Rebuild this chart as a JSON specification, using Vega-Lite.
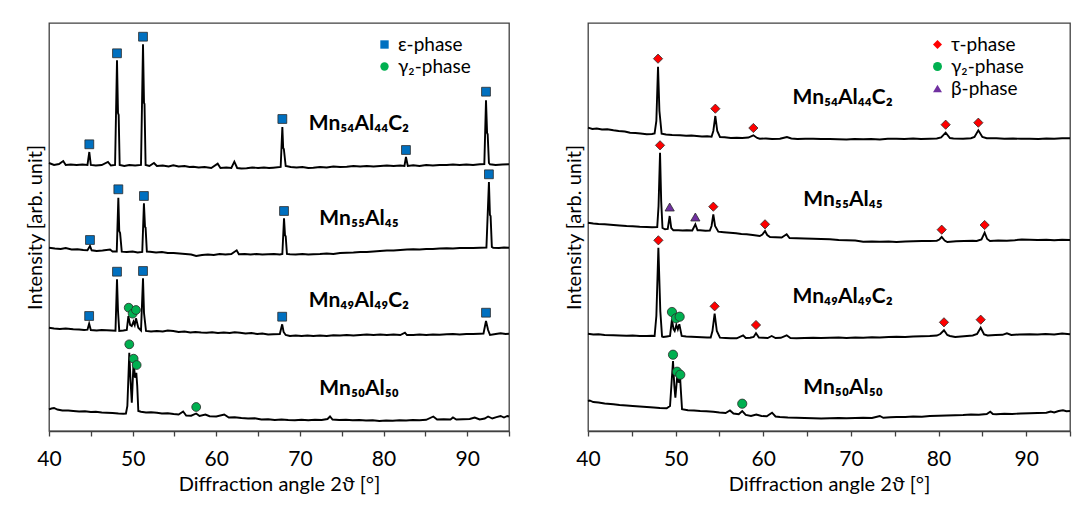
{
  "$schema": "https://vega.github.io/schema/vega-lite/v6.json",
  "background": "white",
  "padding": {"left": 24, "top": 22, "right": 5, "bottom": 5},
  "spacing": 49,
  "config": {
    "font": "Lato",
    "view": {"stroke": "#404040", "strokeWidth": 1.3}
  },
  "resolve": {
    "scale": {"x": "independent", "y": "independent", "fill": "independent", "shape": "independent"},
    "legend": {"fill": "independent", "shape": "independent"}
  },
  "datasets": {
    "L": [
      {"s":"a","x":40,"y":268},{"s":"a","x":40.6,"y":266},{"s":"a","x":41.2,"y":267},{"s":"a","x":41.7,"y":270},{"s":"a","x":42.0,"y":266},{"s":"a","x":42.6,"y":266.5},{"s":"a","x":43.3,"y":266},{"s":"a","x":44.0,"y":266.5},{"s":"a","x":44.6,"y":266},{"s":"a","x":44.82,"y":279},{"s":"a","x":45.0,"y":266},{"s":"a","x":45.6,"y":265.5},{"s":"a","x":46.3,"y":266},{"s":"a","x":47.05,"y":269},{"s":"a","x":47.4,"y":265.5},{"s":"a","x":47.9,"y":266},{"s":"a","x":48.13,"y":370.7},{"s":"a","x":48.25,"y":318},{"s":"a","x":48.33,"y":316},{"s":"a","x":48.45,"y":266},{"s":"a","x":49.0,"y":265},{"s":"a","x":49.6,"y":266},{"s":"a","x":50.3,"y":265.5},{"s":"a","x":51.0,"y":266},{"s":"a","x":51.24,"y":386.7},{"s":"a","x":51.36,"y":328},{"s":"a","x":51.42,"y":327},{"s":"a","x":51.55,"y":266},{"s":"a","x":52.0,"y":265},{"s":"a","x":52.55,"y":268},{"s":"a","x":52.9,"y":265},{"s":"a","x":53.6,"y":265.5},{"s":"a","x":54.3,"y":264.5},{"s":"a","x":54.86,"y":265.7},{"s":"a","x":55.5,"y":264.5},{"s":"a","x":56.2,"y":265},{"s":"a","x":56.8,"y":264},{"s":"a","x":57.25,"y":264.3},{"s":"a","x":57.9,"y":263.5},{"s":"a","x":58.6,"y":264},{"s":"a","x":59.4,"y":263},{"s":"a","x":60.17,"y":267.3},{"s":"a","x":60.5,"y":263},{"s":"a","x":61.2,"y":263.5},{"s":"a","x":61.8,"y":263},{"s":"a","x":62.16,"y":269.3},{"s":"a","x":62.5,"y":263},{"s":"a","x":63.0,"y":262.5},{"s":"a","x":63.63,"y":262.7},{"s":"a","x":64.3,"y":263.5},{"s":"a","x":65.0,"y":263},{"s":"a","x":65.7,"y":263.5},{"s":"a","x":66.3,"y":263},{"s":"a","x":66.8,"y":263.3},{"s":"a","x":67.7,"y":264},{"s":"a","x":67.9,"y":304},{"s":"a","x":68.0,"y":283},{"s":"a","x":68.08,"y":282},{"s":"a","x":68.3,"y":265},{"s":"a","x":68.9,"y":264},{"s":"a","x":69.6,"y":263.5},{"s":"a","x":70.3,"y":264},{"s":"a","x":71.0,"y":263},{"s":"a","x":71.6,"y":263.3},{"s":"a","x":72.4,"y":264},{"s":"a","x":73.2,"y":263.5},{"s":"a","x":74.0,"y":264.5},{"s":"a","x":74.8,"y":264},{"s":"a","x":75.6,"y":264.3},{"s":"a","x":76.4,"y":265},{"s":"a","x":77.2,"y":264.5},{"s":"a","x":78.0,"y":265},{"s":"a","x":78.8,"y":264.5},{"s":"a","x":79.6,"y":265},{"s":"a","x":80.4,"y":265.5},{"s":"a","x":81.2,"y":265},{"s":"a","x":82.0,"y":265.5},{"s":"a","x":82.5,"y":265},{"s":"a","x":82.68,"y":274},{"s":"a","x":82.9,"y":265},{"s":"a","x":83.55,"y":265.7},{"s":"a","x":84.3,"y":265},{"s":"a","x":85.1,"y":266},{"s":"a","x":85.9,"y":265.5},{"s":"a","x":86.7,"y":266},{"s":"a","x":87.55,"y":266},{"s":"a","x":88.3,"y":266.5},{"s":"a","x":89.1,"y":266},{"s":"a","x":89.9,"y":266.5},{"s":"a","x":90.7,"y":266},{"s":"a","x":91.53,"y":266.7},{"s":"a","x":92.05,"y":267},{"s":"a","x":92.25,"y":330.7},{"s":"a","x":92.38,"y":298},{"s":"a","x":92.45,"y":296.7},{"s":"a","x":92.6,"y":268},{"s":"a","x":92.73,"y":266.7},{"s":"a","x":93.4,"y":266},{"s":"a","x":94.2,"y":266.5},{"s":"a","x":95,"y":266.7},

      {"s":"b","x":40,"y":183.3},{"s":"b","x":40.7,"y":182.5},{"s":"b","x":41.4,"y":182},{"s":"b","x":42.0,"y":183},{"s":"b","x":42.7,"y":181.5},{"s":"b","x":43.4,"y":181.7},{"s":"b","x":44.1,"y":181},{"s":"b","x":44.6,"y":180.7},{"s":"b","x":44.9,"y":185},{"s":"b","x":45.1,"y":180.7},{"s":"b","x":45.7,"y":180},{"s":"b","x":46.4,"y":180.5},{"s":"b","x":47.3,"y":181.5},{"s":"b","x":47.6,"y":179.5},{"s":"b","x":48.1,"y":179.5},{"s":"b","x":48.29,"y":233.3},{"s":"b","x":48.4,"y":200},{"s":"b","x":48.5,"y":198},{"s":"b","x":48.7,"y":179.3},{"s":"b","x":49.3,"y":179},{"s":"b","x":50.0,"y":179.5},{"s":"b","x":50.6,"y":178.5},{"s":"b","x":51.15,"y":179},{"s":"b","x":51.35,"y":227.7},{"s":"b","x":51.48,"y":204},{"s":"b","x":51.55,"y":203.3},{"s":"b","x":51.7,"y":179.5},{"s":"b","x":52.08,"y":179.3},{"s":"b","x":52.8,"y":178.5},{"s":"b","x":53.5,"y":179},{"s":"b","x":54.2,"y":178},{"s":"b","x":54.9,"y":178},{"s":"b","x":55.6,"y":177.5},{"s":"b","x":56.3,"y":177},{"s":"b","x":57.0,"y":176.5},{"s":"b","x":57.6,"y":175},{"s":"b","x":58.3,"y":176},{"s":"b","x":59.0,"y":176.5},{"s":"b","x":59.7,"y":176},{"s":"b","x":60.4,"y":177},{"s":"b","x":61.1,"y":176.5},{"s":"b","x":61.8,"y":177},{"s":"b","x":62.44,"y":180.7},{"s":"b","x":62.7,"y":176.7},{"s":"b","x":63.4,"y":177},{"s":"b","x":64.1,"y":176.5},{"s":"b","x":64.8,"y":177},{"s":"b","x":65.5,"y":176.5},{"s":"b","x":66.2,"y":176.7},{"s":"b","x":66.9,"y":177},{"s":"b","x":67.6,"y":176.5},{"s":"b","x":67.9,"y":177},{"s":"b","x":68.1,"y":212.7},{"s":"b","x":68.22,"y":195.5},{"s":"b","x":68.3,"y":195},{"s":"b","x":68.45,"y":177},{"s":"b","x":68.8,"y":176.7},{"s":"b","x":69.5,"y":176.5},{"s":"b","x":70.3,"y":177},{"s":"b","x":71.0,"y":176.5},{"s":"b","x":71.6,"y":176.7},{"s":"b","x":72.4,"y":177},{"s":"b","x":73.2,"y":177.5},{"s":"b","x":74.0,"y":177},{"s":"b","x":74.8,"y":178},{"s":"b","x":75.6,"y":178.3},{"s":"b","x":76.4,"y":178.5},{"s":"b","x":77.2,"y":179},{"s":"b","x":78.0,"y":179},{"s":"b","x":78.8,"y":179.5},{"s":"b","x":79.57,"y":180},{"s":"b","x":80.4,"y":180.5},{"s":"b","x":81.2,"y":180.5},{"s":"b","x":82.0,"y":181},{"s":"b","x":82.8,"y":181.5},{"s":"b","x":83.56,"y":181.7},{"s":"b","x":84.3,"y":181.5},{"s":"b","x":85.1,"y":182},{"s":"b","x":85.9,"y":182},{"s":"b","x":86.7,"y":182.5},{"s":"b","x":87.55,"y":182.7},{"s":"b","x":88.3,"y":182.5},{"s":"b","x":89.1,"y":183},{"s":"b","x":89.9,"y":183},{"s":"b","x":90.7,"y":183},{"s":"b","x":91.53,"y":183.3},{"s":"b","x":92.3,"y":183.5},{"s":"b","x":92.6,"y":249},{"s":"b","x":92.72,"y":216},{"s":"b","x":92.8,"y":215},{"s":"b","x":92.95,"y":184},{"s":"b","x":93.1,"y":183.3},{"s":"b","x":93.8,"y":183},{"s":"b","x":94.4,"y":183.5},{"s":"b","x":95,"y":183.3},

      {"s":"c","x":40,"y":103.3},{"s":"c","x":40.6,"y":102.5},{"s":"c","x":41.3,"y":102},{"s":"c","x":42.0,"y":102.5},{"s":"c","x":42.9,"y":101.7},{"s":"c","x":43.6,"y":101.5},{"s":"c","x":44.2,"y":101},{"s":"c","x":44.6,"y":101.3},{"s":"c","x":44.8,"y":107.3},{"s":"c","x":45.0,"y":101},{"s":"c","x":45.7,"y":100.5},{"s":"c","x":46.3,"y":101},{"s":"c","x":46.9,"y":100.7},{"s":"c","x":47.5,"y":100.5},{"s":"c","x":47.95,"y":100.3},{"s":"c","x":48.13,"y":151.7},{"s":"c","x":48.25,"y":120},{"s":"c","x":48.4,"y":100},{"s":"c","x":48.9,"y":100.5},{"s":"c","x":49.3,"y":101},{"s":"c","x":49.49,"y":115},{"s":"c","x":49.7,"y":106},{"s":"c","x":49.89,"y":105},{"s":"c","x":50.1,"y":109.3},{"s":"c","x":50.25,"y":106},{"s":"c","x":50.4,"y":112.7},{"s":"c","x":50.68,"y":103.3},{"s":"c","x":51.0,"y":100.5},{"s":"c","x":51.24,"y":152.7},{"s":"c","x":51.36,"y":118},{"s":"c","x":51.6,"y":100},{"s":"c","x":52.2,"y":99.5},{"s":"c","x":52.9,"y":100},{"s":"c","x":53.6,"y":99.5},{"s":"c","x":54.2,"y":100.5},{"s":"c","x":54.86,"y":100},{"s":"c","x":55.5,"y":99},{"s":"c","x":56.2,"y":99.5},{"s":"c","x":56.9,"y":98.5},{"s":"c","x":57.5,"y":99},{"s":"c","x":58.2,"y":98.5},{"s":"c","x":58.85,"y":98.3},{"s":"c","x":59.5,"y":98.8},{"s":"c","x":60.2,"y":98},{"s":"c","x":60.9,"y":98.5},{"s":"c","x":61.6,"y":98},{"s":"c","x":62.2,"y":98.8},{"s":"c","x":62.84,"y":98.3},{"s":"c","x":63.5,"y":97.5},{"s":"c","x":64.2,"y":98},{"s":"c","x":64.9,"y":97},{"s":"c","x":65.5,"y":97.5},{"s":"c","x":66.2,"y":96.5},{"s":"c","x":66.82,"y":96.7},{"s":"c","x":67.6,"y":97},{"s":"c","x":67.88,"y":106.7},{"s":"c","x":68.05,"y":99},{"s":"c","x":68.3,"y":96},{"s":"c","x":68.8,"y":95},{"s":"c","x":69.5,"y":95.5},{"s":"c","x":70.2,"y":95},{"s":"c","x":70.9,"y":95.5},{"s":"c","x":71.6,"y":95},{"s":"c","x":72.4,"y":95.5},{"s":"c","x":73.2,"y":95},{"s":"c","x":74.0,"y":95.8},{"s":"c","x":74.8,"y":95.5},{"s":"c","x":75.6,"y":96},{"s":"c","x":76.4,"y":95.5},{"s":"c","x":77.2,"y":96},{"s":"c","x":78.0,"y":96.5},{"s":"c","x":78.8,"y":96},{"s":"c","x":79.6,"y":96.5},{"s":"c","x":80.4,"y":96},{"s":"c","x":81.2,"y":96.5},{"s":"c","x":82.0,"y":96},{"s":"c","x":82.56,"y":98.3},{"s":"c","x":82.8,"y":96},{"s":"c","x":83.56,"y":96},{"s":"c","x":84.3,"y":96.5},{"s":"c","x":85.1,"y":96},{"s":"c","x":85.9,"y":96.5},{"s":"c","x":86.7,"y":96.2},{"s":"c","x":87.55,"y":96.7},{"s":"c","x":88.3,"y":97},{"s":"c","x":89.1,"y":96.5},{"s":"c","x":89.9,"y":97},{"s":"c","x":90.7,"y":97},{"s":"c","x":91.5,"y":97.3},{"s":"c","x":91.95,"y":97.5},{"s":"c","x":92.25,"y":110},{"s":"c","x":92.5,"y":101},{"s":"c","x":92.73,"y":96},{"s":"c","x":93.4,"y":97},{"s":"c","x":94.0,"y":97.8},{"s":"c","x":94.6,"y":97},{"s":"c","x":95,"y":97.3},

      {"s":"d","x":40,"y":21.7},{"s":"d","x":40.3,"y":22.5},{"s":"d","x":40.6,"y":23},{"s":"d","x":41.0,"y":21.5},{"s":"d","x":41.6,"y":20.5},{"s":"d","x":42.3,"y":20.5},{"s":"d","x":42.9,"y":20},{"s":"d","x":43.6,"y":19.5},{"s":"d","x":44.3,"y":19.8},{"s":"d","x":45.0,"y":19},{"s":"d","x":45.6,"y":19.3},{"s":"d","x":46.3,"y":18.5},{"s":"d","x":46.9,"y":18.3},{"s":"d","x":47.6,"y":18},{"s":"d","x":48.3,"y":17.5},{"s":"d","x":48.9,"y":17.3},{"s":"d","x":49.2,"y":17.5},{"s":"d","x":49.37,"y":25},{"s":"d","x":49.6,"y":78.3},{"s":"d","x":49.75,"y":50},{"s":"d","x":49.9,"y":28.3},{"s":"d","x":50.12,"y":70.7},{"s":"d","x":50.28,"y":53.3},{"s":"d","x":50.44,"y":58.3},{"s":"d","x":50.55,"y":45},{"s":"d","x":50.68,"y":20},{"s":"d","x":51.0,"y":19.3},{"s":"d","x":51.6,"y":18.5},{"s":"d","x":52.2,"y":18.8},{"s":"d","x":52.9,"y":18.3},{"s":"d","x":53.5,"y":17.5},{"s":"d","x":54.2,"y":17.8},{"s":"d","x":54.9,"y":17},{"s":"d","x":55.5,"y":16.5},{"s":"d","x":56.04,"y":19.5},{"s":"d","x":56.4,"y":15.5},{"s":"d","x":57.0,"y":15.3},{"s":"d","x":57.6,"y":17.5},{"s":"d","x":58.0,"y":15},{"s":"d","x":58.7,"y":16.5},{"s":"d","x":59.2,"y":14.8},{"s":"d","x":60.0,"y":14.5},{"s":"d","x":60.95,"y":16.5},{"s":"d","x":61.5,"y":13.5},{"s":"d","x":62.2,"y":13.8},{"s":"d","x":63.0,"y":13},{"s":"d","x":63.8,"y":12.5},{"s":"d","x":64.6,"y":12.8},{"s":"d","x":65.4,"y":11.5},{"s":"d","x":66.2,"y":11.7},{"s":"d","x":67.0,"y":11},{"s":"d","x":67.8,"y":11.5},{"s":"d","x":68.6,"y":11},{"s":"d","x":69.4,"y":10.7},{"s":"d","x":70.2,"y":11.2},{"s":"d","x":71.0,"y":10.7},{"s":"d","x":71.8,"y":11.2},{"s":"d","x":72.6,"y":11},{"s":"d","x":73.3,"y":12},{"s":"d","x":73.6,"y":14.5},{"s":"d","x":73.9,"y":11.5},{"s":"d","x":74.7,"y":11},{"s":"d","x":75.5,"y":11.2},{"s":"d","x":76.3,"y":10.7},{"s":"d","x":77.1,"y":11},{"s":"d","x":77.9,"y":10.5},{"s":"d","x":78.7,"y":10.8},{"s":"d","x":79.5,"y":10},{"s":"d","x":80.3,"y":10.5},{"s":"d","x":81.1,"y":10.2},{"s":"d","x":81.9,"y":10.8},{"s":"d","x":82.7,"y":10.5},{"s":"d","x":83.5,"y":11},{"s":"d","x":84.3,"y":10.7},{"s":"d","x":85.1,"y":11.2},{"s":"d","x":85.95,"y":14.5},{"s":"d","x":86.4,"y":11.5},{"s":"d","x":87.2,"y":11.7},{"s":"d","x":88.0,"y":11.5},{"s":"d","x":88.3,"y":13.5},{"s":"d","x":88.7,"y":11.5},{"s":"d","x":89.5,"y":11.8},{"s":"d","x":90.3,"y":12},{"s":"d","x":90.9,"y":13.5},{"s":"d","x":91.5,"y":11.5},{"s":"d","x":92.1,"y":12.5},{"s":"d","x":92.5,"y":14.5},{"s":"d","x":93.0,"y":12.5},{"s":"d","x":93.5,"y":13.8},{"s":"d","x":94.0,"y":15},{"s":"d","x":94.4,"y":13.5},{"s":"d","x":94.8,"y":15},{"s":"d","x":95,"y":14.5}
    ],
    "R": [
      {"s":"a","x":40,"y":303.3},{"s":"a","x":40.5,"y":302},{"s":"a","x":41.0,"y":302.5},{"s":"a","x":41.6,"y":301.5},{"s":"a","x":42.2,"y":301.8},{"s":"a","x":42.9,"y":300.7},{"s":"a","x":43.5,"y":300},{"s":"a","x":44.2,"y":299.5},{"s":"a","x":44.8,"y":298.3},{"s":"a","x":45.4,"y":298},{"s":"a","x":46.0,"y":297.5},{"s":"a","x":46.7,"y":296.7},{"s":"a","x":47.3,"y":297},{"s":"a","x":47.6,"y":297.5},{"s":"a","x":47.8,"y":310},{"s":"a","x":47.99,"y":364.3},{"s":"a","x":48.15,"y":320},{"s":"a","x":48.4,"y":297.3},{"s":"a","x":48.9,"y":296.5},{"s":"a","x":49.6,"y":296},{"s":"a","x":50.5,"y":295.7},{"s":"a","x":51.2,"y":295.2},{"s":"a","x":51.8,"y":295.5},{"s":"a","x":52.4,"y":295},{"s":"a","x":53.0,"y":294.5},{"s":"a","x":53.6,"y":294.8},{"s":"a","x":54.1,"y":294.3},{"s":"a","x":54.3,"y":300},{"s":"a","x":54.53,"y":315},{"s":"a","x":54.75,"y":300},{"s":"a","x":55.06,"y":294},{"s":"a","x":55.6,"y":293.8},{"s":"a","x":56.3,"y":293},{"s":"a","x":56.97,"y":293.3},{"s":"a","x":57.6,"y":293},{"s":"a","x":58.3,"y":293.5},{"s":"a","x":58.87,"y":295.7},{"s":"a","x":59.3,"y":293},{"s":"a","x":59.6,"y":292.3},{"s":"a","x":60.3,"y":292.5},{"s":"a","x":61.0,"y":292},{"s":"a","x":61.9,"y":292.3},{"s":"a","x":62.7,"y":294},{"s":"a","x":63.2,"y":292.5},{"s":"a","x":63.9,"y":292},{"s":"a","x":64.8,"y":292.3},{"s":"a","x":65.7,"y":292.3},{"s":"a","x":66.6,"y":292},{"s":"a","x":67.6,"y":292},{"s":"a","x":68.5,"y":291.8},{"s":"a","x":69.5,"y":291.5},{"s":"a","x":70.4,"y":292},{"s":"a","x":71.4,"y":291.7},{"s":"a","x":72.3,"y":292},{"s":"a","x":73.3,"y":291.5},{"s":"a","x":74.2,"y":292.3},{"s":"a","x":75.2,"y":292.3},{"s":"a","x":76.1,"y":292},{"s":"a","x":77.1,"y":292.5},{"s":"a","x":78.0,"y":292},{"s":"a","x":79.0,"y":292.3},{"s":"a","x":79.8,"y":292.5},{"s":"a","x":80.3,"y":293.5},{"s":"a","x":80.81,"y":298.3},{"s":"a","x":81.3,"y":293},{"s":"a","x":81.7,"y":292.5},{"s":"a","x":82.8,"y":292.3},{"s":"a","x":83.7,"y":292.8},{"s":"a","x":84.1,"y":294},{"s":"a","x":84.54,"y":300.7},{"s":"a","x":85.0,"y":294},{"s":"a","x":85.5,"y":292.8},{"s":"a","x":86.6,"y":292.7},{"s":"a","x":87.5,"y":292.3},{"s":"a","x":88.5,"y":292.5},{"s":"a","x":89.4,"y":292.2},{"s":"a","x":90.4,"y":292.3},{"s":"a","x":91.4,"y":292},{"s":"a","x":92.3,"y":292.5},{"s":"a","x":93.2,"y":292.3},{"s":"a","x":94.1,"y":292.7},{"s":"a","x":95,"y":292.7},

      {"s":"b","x":40,"y":208.3},{"s":"b","x":40.6,"y":207.5},{"s":"b","x":41.2,"y":207},{"s":"b","x":41.9,"y":206.8},{"s":"b","x":42.9,"y":206},{"s":"b","x":43.6,"y":205.5},{"s":"b","x":44.4,"y":205},{"s":"b","x":45.1,"y":204.8},{"s":"b","x":45.9,"y":204.3},{"s":"b","x":46.7,"y":204},{"s":"b","x":47.3,"y":203.8},{"s":"b","x":47.9,"y":204},{"s":"b","x":48.05,"y":225},{"s":"b","x":48.22,"y":278.3},{"s":"b","x":48.35,"y":230},{"s":"b","x":48.5,"y":203},{"s":"b","x":48.79,"y":201.7},{"s":"b","x":49.1,"y":202},{"s":"b","x":49.32,"y":215},{"s":"b","x":49.5,"y":203},{"s":"b","x":49.74,"y":200.7},{"s":"b","x":50.3,"y":200.8},{"s":"b","x":50.8,"y":200.5},{"s":"b","x":51.26,"y":200.7},{"s":"b","x":51.9,"y":200.5},{"s":"b","x":52.25,"y":206.7},{"s":"b","x":52.5,"y":200.7},{"s":"b","x":52.78,"y":200.7},{"s":"b","x":53.4,"y":200.3},{"s":"b","x":53.9,"y":200.5},{"s":"b","x":54.1,"y":205},{"s":"b","x":54.3,"y":216.7},{"s":"b","x":54.5,"y":205},{"s":"b","x":54.87,"y":199.3},{"s":"b","x":55.5,"y":198.8},{"s":"b","x":56.2,"y":198.3},{"s":"b","x":56.9,"y":197.8},{"s":"b","x":57.5,"y":197},{"s":"b","x":58.1,"y":196.7},{"s":"b","x":58.8,"y":196},{"s":"b","x":59.6,"y":195},{"s":"b","x":59.9,"y":196.5},{"s":"b","x":60.2,"y":200},{"s":"b","x":60.45,"y":196},{"s":"b","x":60.77,"y":194},{"s":"b","x":61.4,"y":193.8},{"s":"b","x":62.1,"y":193.5},{"s":"b","x":62.67,"y":196.7},{"s":"b","x":63.0,"y":193},{"s":"b","x":63.8,"y":192.7},{"s":"b","x":64.7,"y":192.5},{"s":"b","x":65.7,"y":192.3},{"s":"b","x":66.6,"y":192},{"s":"b","x":67.6,"y":191.7},{"s":"b","x":68.6,"y":191},{"s":"b","x":69.5,"y":190.8},{"s":"b","x":70.5,"y":190.5},{"s":"b","x":71.4,"y":189.3},{"s":"b","x":72.4,"y":189.5},{"s":"b","x":73.3,"y":189.2},{"s":"b","x":74.3,"y":189.5},{"s":"b","x":75.2,"y":189},{"s":"b","x":76.2,"y":189.5},{"s":"b","x":77.1,"y":189.8},{"s":"b","x":78.1,"y":190},{"s":"b","x":79.0,"y":190},{"s":"b","x":79.8,"y":190.3},{"s":"b","x":80.1,"y":191.5},{"s":"b","x":80.36,"y":194},{"s":"b","x":80.7,"y":190.5},{"s":"b","x":81.0,"y":189},{"s":"b","x":82.0,"y":189.8},{"s":"b","x":82.9,"y":190},{"s":"b","x":83.9,"y":190.3},{"s":"b","x":84.35,"y":190},{"s":"b","x":84.9,"y":191.5},{"s":"b","x":85.26,"y":198.3},{"s":"b","x":85.55,"y":192},{"s":"b","x":85.87,"y":190},{"s":"b","x":86.8,"y":190.5},{"s":"b","x":87.8,"y":190.3},{"s":"b","x":88.7,"y":190.8},{"s":"b","x":89.5,"y":191.5},{"s":"b","x":90.4,"y":191.3},{"s":"b","x":91.3,"y":191},{"s":"b","x":92.3,"y":191.2},{"s":"b","x":93.2,"y":190.8},{"s":"b","x":94.1,"y":191.3},{"s":"b","x":95,"y":191},

      {"s":"c","x":40,"y":97.3},{"s":"c","x":40.6,"y":96.5},{"s":"c","x":41.2,"y":96.8},{"s":"c","x":41.9,"y":96},{"s":"c","x":42.9,"y":95.7},{"s":"c","x":43.6,"y":95.5},{"s":"c","x":44.4,"y":95.3},{"s":"c","x":45.1,"y":95.5},{"s":"c","x":45.9,"y":95},{"s":"c","x":46.7,"y":95},{"s":"c","x":47.3,"y":95.2},{"s":"c","x":47.6,"y":95},{"s":"c","x":47.8,"y":115},{"s":"c","x":48.03,"y":183.3},{"s":"c","x":48.25,"y":120},{"s":"c","x":48.45,"y":94.5},{"s":"c","x":48.6,"y":94},{"s":"c","x":49.0,"y":94.5},{"s":"c","x":49.36,"y":95},{"s":"c","x":49.58,"y":111.7},{"s":"c","x":49.75,"y":102},{"s":"c","x":49.89,"y":100},{"s":"c","x":50.08,"y":106},{"s":"c","x":50.25,"y":101.7},{"s":"c","x":50.42,"y":106.7},{"s":"c","x":50.69,"y":95},{"s":"c","x":51.2,"y":94.5},{"s":"c","x":51.8,"y":94.2},{"s":"c","x":52.4,"y":94},{"s":"c","x":53.0,"y":93.7},{"s":"c","x":53.6,"y":93.5},{"s":"c","x":54.0,"y":93.5},{"s":"c","x":54.2,"y":100},{"s":"c","x":54.45,"y":117.3},{"s":"c","x":54.7,"y":100},{"s":"c","x":55.06,"y":93.3},{"s":"c","x":55.7,"y":93},{"s":"c","x":56.3,"y":92.8},{"s":"c","x":56.97,"y":92.7},{"s":"c","x":57.7,"y":95.7},{"s":"c","x":58.0,"y":93},{"s":"c","x":58.49,"y":93.3},{"s":"c","x":58.9,"y":94},{"s":"c","x":59.17,"y":97.7},{"s":"c","x":59.5,"y":93.5},{"s":"c","x":60.0,"y":93.3},{"s":"c","x":60.5,"y":93},{"s":"c","x":60.96,"y":95},{"s":"c","x":61.4,"y":93},{"s":"c","x":62.0,"y":93.2},{"s":"c","x":62.67,"y":95.7},{"s":"c","x":63.1,"y":93},{"s":"c","x":63.8,"y":92.7},{"s":"c","x":64.7,"y":93},{"s":"c","x":65.7,"y":93.2},{"s":"c","x":66.6,"y":93},{"s":"c","x":67.6,"y":93.3},{"s":"c","x":68.6,"y":93.5},{"s":"c","x":69.5,"y":93},{"s":"c","x":70.5,"y":93.5},{"s":"c","x":71.4,"y":93.3},{"s":"c","x":72.4,"y":93.8},{"s":"c","x":73.3,"y":93.5},{"s":"c","x":74.3,"y":94},{"s":"c","x":75.2,"y":94.3},{"s":"c","x":76.2,"y":94},{"s":"c","x":77.1,"y":94.5},{"s":"c","x":78.1,"y":94.8},{"s":"c","x":79.0,"y":95},{"s":"c","x":79.8,"y":95.5},{"s":"c","x":80.2,"y":97},{"s":"c","x":80.62,"y":100.7},{"s":"c","x":81.0,"y":96},{"s":"c","x":81.3,"y":95},{"s":"c","x":81.9,"y":94},{"s":"c","x":82.9,"y":94.8},{"s":"c","x":83.9,"y":95.5},{"s":"c","x":84.4,"y":97},{"s":"c","x":84.81,"y":103.3},{"s":"c","x":85.2,"y":96.5},{"s":"c","x":85.6,"y":95.5},{"s":"c","x":86.5,"y":96},{"s":"c","x":87.3,"y":96.2},{"s":"c","x":87.8,"y":97.7},{"s":"c","x":88.3,"y":96},{"s":"c","x":89.2,"y":96.5},{"s":"c","x":90.4,"y":96.7},{"s":"c","x":91.3,"y":96.5},{"s":"c","x":92.2,"y":97},{"s":"c","x":93.2,"y":96.5},{"s":"c","x":94.1,"y":97.5},{"s":"c","x":95,"y":96.7},

      {"s":"d","x":40,"y":30},{"s":"d","x":40.2,"y":30.5},{"s":"d","x":40.6,"y":29},{"s":"d","x":41.2,"y":28.5},{"s":"d","x":41.9,"y":27.5},{"s":"d","x":42.9,"y":26.7},{"s":"d","x":43.6,"y":26},{"s":"d","x":44.4,"y":25.5},{"s":"d","x":45.1,"y":25},{"s":"d","x":45.9,"y":24.5},{"s":"d","x":46.7,"y":24},{"s":"d","x":47.5,"y":23.5},{"s":"d","x":48.2,"y":23},{"s":"d","x":48.98,"y":22.7},{"s":"d","x":49.36,"y":25},{"s":"d","x":49.7,"y":70},{"s":"d","x":49.85,"y":45},{"s":"d","x":49.97,"y":33.3},{"s":"d","x":50.2,"y":56.7},{"s":"d","x":50.35,"y":48.3},{"s":"d","x":50.5,"y":55},{"s":"d","x":50.6,"y":40},{"s":"d","x":50.73,"y":21.7},{"s":"d","x":51.4,"y":20.7},{"s":"d","x":52.1,"y":20.5},{"s":"d","x":52.8,"y":20},{"s":"d","x":53.5,"y":19.8},{"s":"d","x":54.3,"y":19.3},{"s":"d","x":55.0,"y":18.5},{"s":"d","x":55.7,"y":18},{"s":"d","x":56.2,"y":20.5},{"s":"d","x":56.6,"y":17.5},{"s":"d","x":57.2,"y":16.7},{"s":"d","x":57.6,"y":20},{"s":"d","x":58.0,"y":16},{"s":"d","x":58.6,"y":15},{"s":"d","x":59.2,"y":16.5},{"s":"d","x":59.8,"y":15},{"s":"d","x":60.4,"y":14.8},{"s":"d","x":61.0,"y":18.3},{"s":"d","x":61.4,"y":14.5},{"s":"d","x":61.9,"y":14},{"s":"d","x":62.8,"y":13.5},{"s":"d","x":63.8,"y":13.3},{"s":"d","x":64.7,"y":13},{"s":"d","x":65.7,"y":12.7},{"s":"d","x":66.6,"y":12.5},{"s":"d","x":67.6,"y":12.7},{"s":"d","x":68.6,"y":13},{"s":"d","x":69.5,"y":12.8},{"s":"d","x":70.5,"y":13},{"s":"d","x":71.4,"y":13.3},{"s":"d","x":72.4,"y":13},{"s":"d","x":73.3,"y":15},{"s":"d","x":73.7,"y":13.2},{"s":"d","x":74.5,"y":13.8},{"s":"d","x":75.2,"y":14},{"s":"d","x":76.2,"y":14},{"s":"d","x":77.1,"y":14.5},{"s":"d","x":78.1,"y":14.3},{"s":"d","x":79.0,"y":15},{"s":"d","x":80.0,"y":15.2},{"s":"d","x":80.9,"y":15.5},{"s":"d","x":81.9,"y":15.8},{"s":"d","x":82.8,"y":16},{"s":"d","x":83.7,"y":16.5},{"s":"d","x":84.6,"y":16.2},{"s":"d","x":85.5,"y":17},{"s":"d","x":85.9,"y":19.3},{"s":"d","x":86.2,"y":17},{"s":"d","x":86.6,"y":16.7},{"s":"d","x":87.5,"y":17.2},{"s":"d","x":88.4,"y":17},{"s":"d","x":89.4,"y":17.5},{"s":"d","x":90.4,"y":17.7},{"s":"d","x":91.3,"y":18},{"s":"d","x":92.3,"y":18.3},{"s":"d","x":92.8,"y":19.5},{"s":"d","x":93.2,"y":18.5},{"s":"d","x":93.7,"y":20},{"s":"d","x":94.2,"y":20.7},{"s":"d","x":94.6,"y":19.8},{"s":"d","x":95,"y":20}
    ],
    "LM": [
      {"p":"ε-phase","x":44.82,"y":286.7},{"p":"ε-phase","x":48.13,"y":377.7},{"p":"ε-phase","x":51.24,"y":394.3},{"p":"ε-phase","x":67.9,"y":312},{"p":"ε-phase","x":82.68,"y":281},{"p":"ε-phase","x":92.25,"y":339.3},
      {"p":"ε-phase","x":44.9,"y":191},{"p":"ε-phase","x":48.29,"y":241.7},{"p":"ε-phase","x":51.35,"y":235},{"p":"ε-phase","x":68.1,"y":220},{"p":"ε-phase","x":92.6,"y":256.7},
      {"p":"ε-phase","x":44.8,"y":115},{"p":"ε-phase","x":48.13,"y":159.3},{"p":"ε-phase","x":51.24,"y":160},{"p":"ε-phase","x":67.88,"y":114.3},{"p":"ε-phase","x":92.25,"y":118.3},
      {"p":"γ₂-phase","x":49.53,"y":123.3},{"p":"γ₂-phase","x":50.0,"y":117.3},{"p":"γ₂-phase","x":50.4,"y":121},
      {"p":"γ₂-phase","x":49.6,"y":86.7},{"p":"γ₂-phase","x":50.12,"y":72.3},{"p":"γ₂-phase","x":50.48,"y":66},{"p":"γ₂-phase","x":57.6,"y":24}
    ],
    "RM": [
      {"p":"τ-phase","x":47.99,"y":372.3},{"p":"τ-phase","x":54.53,"y":322.3},{"p":"τ-phase","x":58.87,"y":303},{"p":"τ-phase","x":80.81,"y":306.3},{"p":"τ-phase","x":84.54,"y":308.3},
      {"p":"τ-phase","x":48.22,"y":285.7},{"p":"τ-phase","x":54.3,"y":224.3},{"p":"τ-phase","x":60.2,"y":206.7},{"p":"τ-phase","x":80.36,"y":201.3},{"p":"τ-phase","x":85.26,"y":206},
      {"p":"τ-phase","x":48.03,"y":190.7},{"p":"τ-phase","x":54.45,"y":124.7},{"p":"τ-phase","x":59.17,"y":106},{"p":"τ-phase","x":80.62,"y":108.7},{"p":"τ-phase","x":84.81,"y":111.3},
      {"p":"γ₂-phase","x":49.58,"y":119},{"p":"γ₂-phase","x":50.04,"y":112.7},{"p":"γ₂-phase","x":50.46,"y":114.3},
      {"p":"γ₂-phase","x":49.7,"y":76.3},{"p":"γ₂-phase","x":50.16,"y":59.3},{"p":"γ₂-phase","x":50.53,"y":56.3},{"p":"γ₂-phase","x":57.6,"y":27.3},
      {"p":"β-phase","x":49.32,"y":224},{"p":"β-phase","x":52.25,"y":214}
    ],
    "LT": [
      {"x":77.06,"y":307.3,"t":"Mn₅₄Al₄₄C₂"},{"x":77.07,"y":212.5,"t":"Mn₅₅Al₄₅"},{"x":77.06,"y":130,"t":"Mn₄₉Al₄₉C₂"},{"x":77.07,"y":42,"t":"Mn₅₀Al₅₀"}
    ],
    "RT": [
      {"x":69.05,"y":333,"t":"Mn₅₄Al₄₄C₂"},{"x":69.1,"y":231,"t":"Mn₅₅Al₄₅"},{"x":69.05,"y":134,"t":"Mn₄₉Al₄₉C₂"},{"x":69.1,"y":43,"t":"Mn₅₀Al₅₀"}
    ]
  },
  "hconcat": [
    {
      "width": 460,
      "height": 408,
      "encoding": {
        "x": {"field": "x", "type": "quantitative", "scale": {"domain": [40, 95], "nice": false, "zero": false},
          "axis": {"title": "Diffraction angle 2ϑ [°]", "values": [40,45,50,55,60,65,70,75,80,85,90,95], "labelExpr": "datum.value % 10 === 0 ? datum.label : ''", "labelFlush": false, "labelOverlap": false, "labelBound": false, "grid": false, "domainColor": "#404040", "domainWidth": 1.3, "tickColor": "#404040", "tickWidth": 1.3, "tickSize": 5, "labelFontSize": 21, "labelColor": "#000", "labelPadding": 12, "titleFontSize": 20, "titleFontWeight": "normal", "titleColor": "#000", "titlePadding": 5}},
        "y": {"field": "y", "type": "quantitative", "scale": {"domain": [0, 408], "nice": false, "zero": false},
          "axis": {"title": "Intensity [arb. unit]", "labels": false, "ticks": false, "domain": false, "grid": false, "tickSize": 0, "labelPadding": 0, "titleFontSize": 20, "titleFontWeight": "normal", "titleColor": "#000", "titlePadding": 4}}
      },
      "layer": [
        {"data": {"name": "L"}, "mark": {"type": "line", "color": "#000", "strokeWidth": 1.9},
          "encoding": {"detail": {"field": "s", "type": "nominal"}}},
        {"data": {"name": "LM"}, "mark": {"type": "point", "filled": true, "size": 78, "stroke": "#2b2b2b", "strokeWidth": 0.8, "opacity": 1},
          "encoding": {
            "fill": {"field": "p", "type": "nominal", "scale": {"domain": ["ε-phase", "γ₂-phase"], "range": ["#0070C0", "#00B050"]},
              "legend": {"title": null, "orient": "none", "legendX": 326, "legendY": 12, "labelFontSize": 19, "labelColor": "#000", "symbolSize": 70, "symbolStrokeColor": "#2b2b2b", "symbolStrokeWidth": 0.8, "rowPadding": 2, "labelOffset": 4, "padding": 0}},
            "shape": {"field": "p", "type": "nominal", "scale": {"domain": ["ε-phase", "γ₂-phase"], "range": ["square", "circle"]},
              "legend": {"title": null, "orient": "none", "legendX": 326, "legendY": 12, "labelFontSize": 19, "labelColor": "#000", "symbolSize": 70, "symbolStrokeColor": "#2b2b2b", "symbolStrokeWidth": 0.8, "rowPadding": 2, "labelOffset": 4, "padding": 0}}
          }},
        {"data": {"name": "LT"}, "mark": {"type": "text", "fontSize": 21, "fontWeight": "bold", "align": "center", "baseline": "middle", "color": "#000"},
          "encoding": {"text": {"field": "t", "type": "nominal"}}}
      ]
    },
    {
      "width": 482,
      "height": 408,
      "encoding": {
        "x": {"field": "x", "type": "quantitative", "scale": {"domain": [40, 95], "nice": false, "zero": false},
          "axis": {"title": "Diffraction angle 2ϑ [°]", "values": [40,45,50,55,60,65,70,75,80,85,90,95], "labelExpr": "datum.value % 10 === 0 ? datum.label : ''", "labelFlush": false, "labelOverlap": false, "labelBound": false, "grid": false, "domainColor": "#404040", "domainWidth": 1.3, "tickColor": "#404040", "tickWidth": 1.3, "tickSize": 5, "labelFontSize": 21, "labelColor": "#000", "labelPadding": 12, "titleFontSize": 20, "titleFontWeight": "normal", "titleColor": "#000", "titlePadding": 5}},
        "y": {"field": "y", "type": "quantitative", "scale": {"domain": [0, 408], "nice": false, "zero": false},
          "axis": {"title": "Intensity [arb. unit]", "labels": false, "ticks": false, "domain": false, "grid": false, "tickSize": 0, "labelPadding": 0, "titleFontSize": 20, "titleFontWeight": "normal", "titleColor": "#000", "titlePadding": 4}}
      },
      "layer": [
        {"data": {"name": "R"}, "mark": {"type": "line", "color": "#000", "strokeWidth": 1.9},
          "encoding": {"detail": {"field": "s", "type": "nominal"}}},
        {"data": {"name": "RM"}, "mark": {"type": "point", "filled": true, "size": 85, "stroke": "#2b2b2b", "strokeWidth": 0.8, "opacity": 1},
          "encoding": {
            "fill": {"field": "p", "type": "nominal", "scale": {"domain": ["τ-phase", "γ₂-phase", "β-phase"], "range": ["#FF0000", "#00B050", "#7030A0"]},
              "legend": {"title": null, "orient": "none", "legendX": 340, "legendY": 12, "labelFontSize": 19, "labelColor": "#000", "symbolSize": 80, "symbolStrokeColor": "#2b2b2b", "symbolStrokeWidth": 0.8, "rowPadding": 2, "labelOffset": 4, "padding": 0}},
            "shape": {"field": "p", "type": "nominal", "scale": {"domain": ["τ-phase", "γ₂-phase", "β-phase"], "range": ["diamond", "circle", "triangle-up"]},
              "legend": {"title": null, "orient": "none", "legendX": 340, "legendY": 12, "labelFontSize": 19, "labelColor": "#000", "symbolSize": 80, "symbolStrokeColor": "#2b2b2b", "symbolStrokeWidth": 0.8, "rowPadding": 2, "labelOffset": 4, "padding": 0}}
          }},
        {"data": {"name": "RT"}, "mark": {"type": "text", "fontSize": 21, "fontWeight": "bold", "align": "center", "baseline": "middle", "color": "#000"},
          "encoding": {"text": {"field": "t", "type": "nominal"}}}
      ]
    }
  ]
}
